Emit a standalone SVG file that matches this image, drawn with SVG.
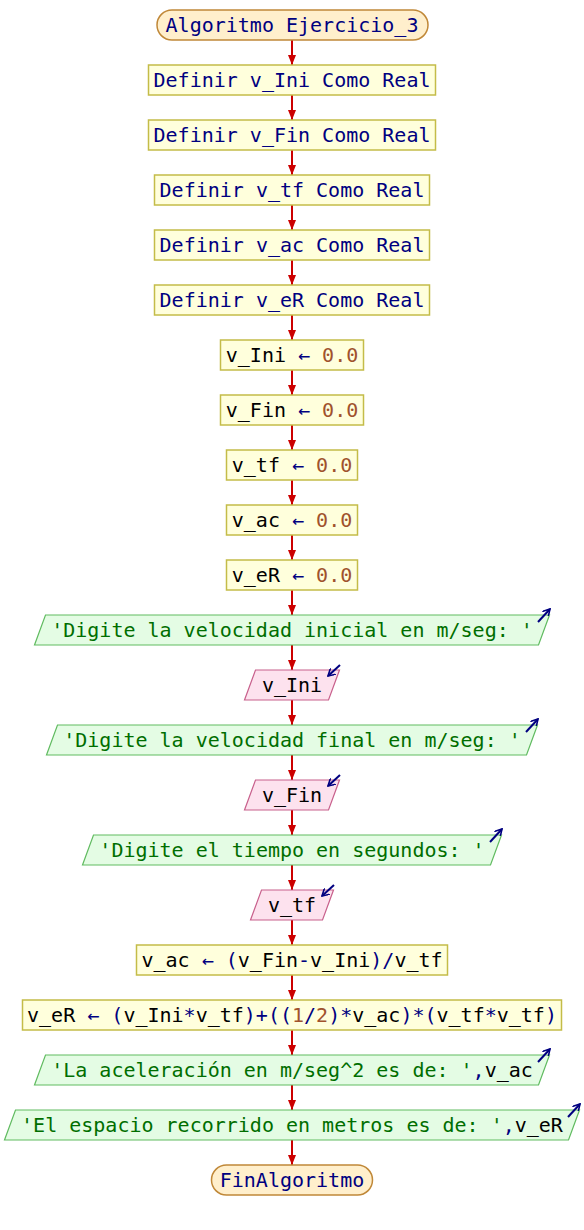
<svg xmlns="http://www.w3.org/2000/svg" width="584" height="1230" viewBox="0 0 584 1230">
  <style>
    text { font-family: "DejaVu Sans Mono", "Liberation Mono", monospace; font-size: 20px; text-anchor: middle; fill: #000000; white-space: pre; }
    .kw { fill: #000080; }
    .op { fill: #000080; }
    .num { fill: #a0522d; }
    .str { fill: #006e00; }
    .term { fill: #ffefcc; stroke: #c08838; stroke-width: 1.5; }
    .proc { fill: #ffffdc; stroke: #c4bc48; stroke-width: 1.5; }
    .out { fill: #e4fce4; stroke: #60bb60; stroke-width: 1.2; }
    .in { fill: #fde2ee; stroke: #c8608c; stroke-width: 1.2; }
    .flow { stroke: #cc0000; stroke-width: 2; fill: none; marker-end: url(#tip); }
    .io { stroke: #000080; stroke-width: 2; fill: none; marker-end: url(#ioTip); }
  </style>
  <defs>
    <marker id="tip" viewBox="0 0 10 8" refX="10" refY="4" markerWidth="5" markerHeight="4" orient="auto">
      <path d="M0,0 L10,4 L0,8 Z" fill="#cc0000"/>
    </marker>
    <marker id="ioTip" viewBox="0 0 8 8" refX="7" refY="4" markerWidth="4" markerHeight="4" orient="auto">
      <path d="M0,0 L7,4 L0,8" fill="none" stroke="#000080" stroke-width="1.6"/>
    </marker>
  </defs>

  <!-- connectors: bottom of each node to top of the next -->
  <g id="connectors">
    <path class="flow" d="M292 40V65"/>
    <path class="flow" d="M292 95V120"/>
    <path class="flow" d="M292 150V175"/>
    <path class="flow" d="M292 205V230"/>
    <path class="flow" d="M292 260V285"/>
    <path class="flow" d="M292 315V340"/>
    <path class="flow" d="M292 370V395"/>
    <path class="flow" d="M292 425V450"/>
    <path class="flow" d="M292 480V505"/>
    <path class="flow" d="M292 535V560"/>
    <path class="flow" d="M292 590V615"/>
    <path class="flow" d="M292 645V670"/>
    <path class="flow" d="M292 700V725"/>
    <path class="flow" d="M292 755V780"/>
    <path class="flow" d="M292 810V835"/>
    <path class="flow" d="M292 865V890"/>
    <path class="flow" d="M292 920V945"/>
    <path class="flow" d="M292 975V1000"/>
    <path class="flow" d="M292 1030V1055"/>
    <path class="flow" d="M292 1085V1110"/>
    <path class="flow" d="M292 1140V1165"/>
  </g>

  <g id="start">
    <rect class="term" x="157" y="10" width="271" height="30" rx="15"/>
    <text x="292" y="32" class="kw">Algoritmo Ejercicio_3</text>
  </g>

  <g id="def-ini">
    <rect class="proc" x="148.5" y="65" width="287" height="30"/>
    <text x="292" y="87" class="kw">Definir v_Ini Como Real</text>
  </g>
  <g id="def-fin">
    <rect class="proc" x="148.5" y="120" width="287" height="30"/>
    <text x="292" y="142" class="kw">Definir v_Fin Como Real</text>
  </g>
  <g id="def-tf">
    <rect class="proc" x="154.5" y="175" width="275" height="30"/>
    <text x="292" y="197" class="kw">Definir v_tf Como Real</text>
  </g>
  <g id="def-ac">
    <rect class="proc" x="154.5" y="230" width="275" height="30"/>
    <text x="292" y="252" class="kw">Definir v_ac Como Real</text>
  </g>
  <g id="def-er">
    <rect class="proc" x="154.5" y="285" width="275" height="30"/>
    <text x="292" y="307" class="kw">Definir v_eR Como Real</text>
  </g>

  <g id="set-ini">
    <rect class="proc" x="220.5" y="340" width="143" height="30"/>
    <text x="292" y="362">v_Ini <tspan class="op">←</tspan> <tspan class="num">0.0</tspan></text>
  </g>
  <g id="set-fin">
    <rect class="proc" x="220.5" y="395" width="143" height="30"/>
    <text x="292" y="417">v_Fin <tspan class="op">←</tspan> <tspan class="num">0.0</tspan></text>
  </g>
  <g id="set-tf">
    <rect class="proc" x="226.5" y="450" width="131" height="30"/>
    <text x="292" y="472">v_tf <tspan class="op">←</tspan> <tspan class="num">0.0</tspan></text>
  </g>
  <g id="set-ac">
    <rect class="proc" x="226.5" y="505" width="131" height="30"/>
    <text x="292" y="527">v_ac <tspan class="op">←</tspan> <tspan class="num">0.0</tspan></text>
  </g>
  <g id="set-er">
    <rect class="proc" x="226.5" y="560" width="131" height="30"/>
    <text x="292" y="582">v_eR <tspan class="op">←</tspan> <tspan class="num">0.0</tspan></text>
  </g>

  <g id="out-ini">
    <polygon class="out" points="45.5,615 549.5,615 538.5,645 34.5,645"/>
    <text x="292" y="637" class="str">'Digite la velocidad inicial en m/seg: '</text>
    <path class="io" d="M538 622L550 609"/>
  </g>
  <g id="in-ini">
    <polygon class="in" points="255.5,670 339.5,670 328.5,700 244.5,700"/>
    <text x="292" y="692">v_Ini</text>
    <path class="io" d="M340 665L328 676"/>
  </g>
  <g id="out-fin">
    <polygon class="out" points="57.5,725 537.5,725 526.5,755 46.5,755"/>
    <text x="292" y="747" class="str">'Digite la velocidad final en m/seg: '</text>
    <path class="io" d="M526 732L538 719"/>
  </g>
  <g id="in-fin">
    <polygon class="in" points="255.5,780 339.5,780 328.5,810 244.5,810"/>
    <text x="292" y="802">v_Fin</text>
    <path class="io" d="M340 775L328 786"/>
  </g>
  <g id="out-tf">
    <polygon class="out" points="93.5,835 501.5,835 490.5,865 82.5,865"/>
    <text x="292" y="857" class="str">'Digite el tiempo en segundos: '</text>
    <path class="io" d="M490 842L502 829"/>
  </g>
  <g id="in-tf">
    <polygon class="in" points="261.5,890 333.5,890 322.5,920 250.5,920"/>
    <text x="292" y="912">v_tf</text>
    <path class="io" d="M334 885L322 896"/>
  </g>

  <g id="calc-ac">
    <rect class="proc" x="136.5" y="945" width="311" height="30"/>
    <text x="292" y="967">v_ac <tspan class="op">← (</tspan>v_Fin<tspan class="op">-</tspan>v_Ini<tspan class="op">)/</tspan>v_tf</text>
  </g>
  <g id="calc-er">
    <rect class="proc" x="22.5" y="1000" width="539" height="30"/>
    <text x="292" y="1022">v_eR <tspan class="op">← (</tspan>v_Ini<tspan class="op">*</tspan>v_tf<tspan class="op">)+((</tspan><tspan class="num">1</tspan><tspan class="op">/</tspan><tspan class="num">2</tspan><tspan class="op">)*</tspan>v_ac<tspan class="op">)*(</tspan>v_tf<tspan class="op">*</tspan>v_tf<tspan class="op">)</tspan></text>
  </g>

  <g id="out-ac">
    <polygon class="out" points="45.5,1055 549.5,1055 538.5,1085 34.5,1085"/>
    <text x="292" y="1077"><tspan class="str">'La aceleración en m/seg^2 es de: '</tspan><tspan class="op">,</tspan>v_ac</text>
    <path class="io" d="M538 1062L550 1049"/>
  </g>
  <g id="out-er">
    <polygon class="out" points="15.5,1110 579.5,1110 568.5,1140 4.5,1140"/>
    <text x="292" y="1132"><tspan class="str">'El espacio recorrido en metros es de: '</tspan><tspan class="op">,</tspan>v_eR</text>
    <path class="io" d="M568 1117L580 1104"/>
  </g>

  <g id="end">
    <rect class="term" x="211.5" y="1165" width="161" height="30" rx="15"/>
    <text x="292" y="1187" class="kw">FinAlgoritmo</text>
  </g>
</svg>
